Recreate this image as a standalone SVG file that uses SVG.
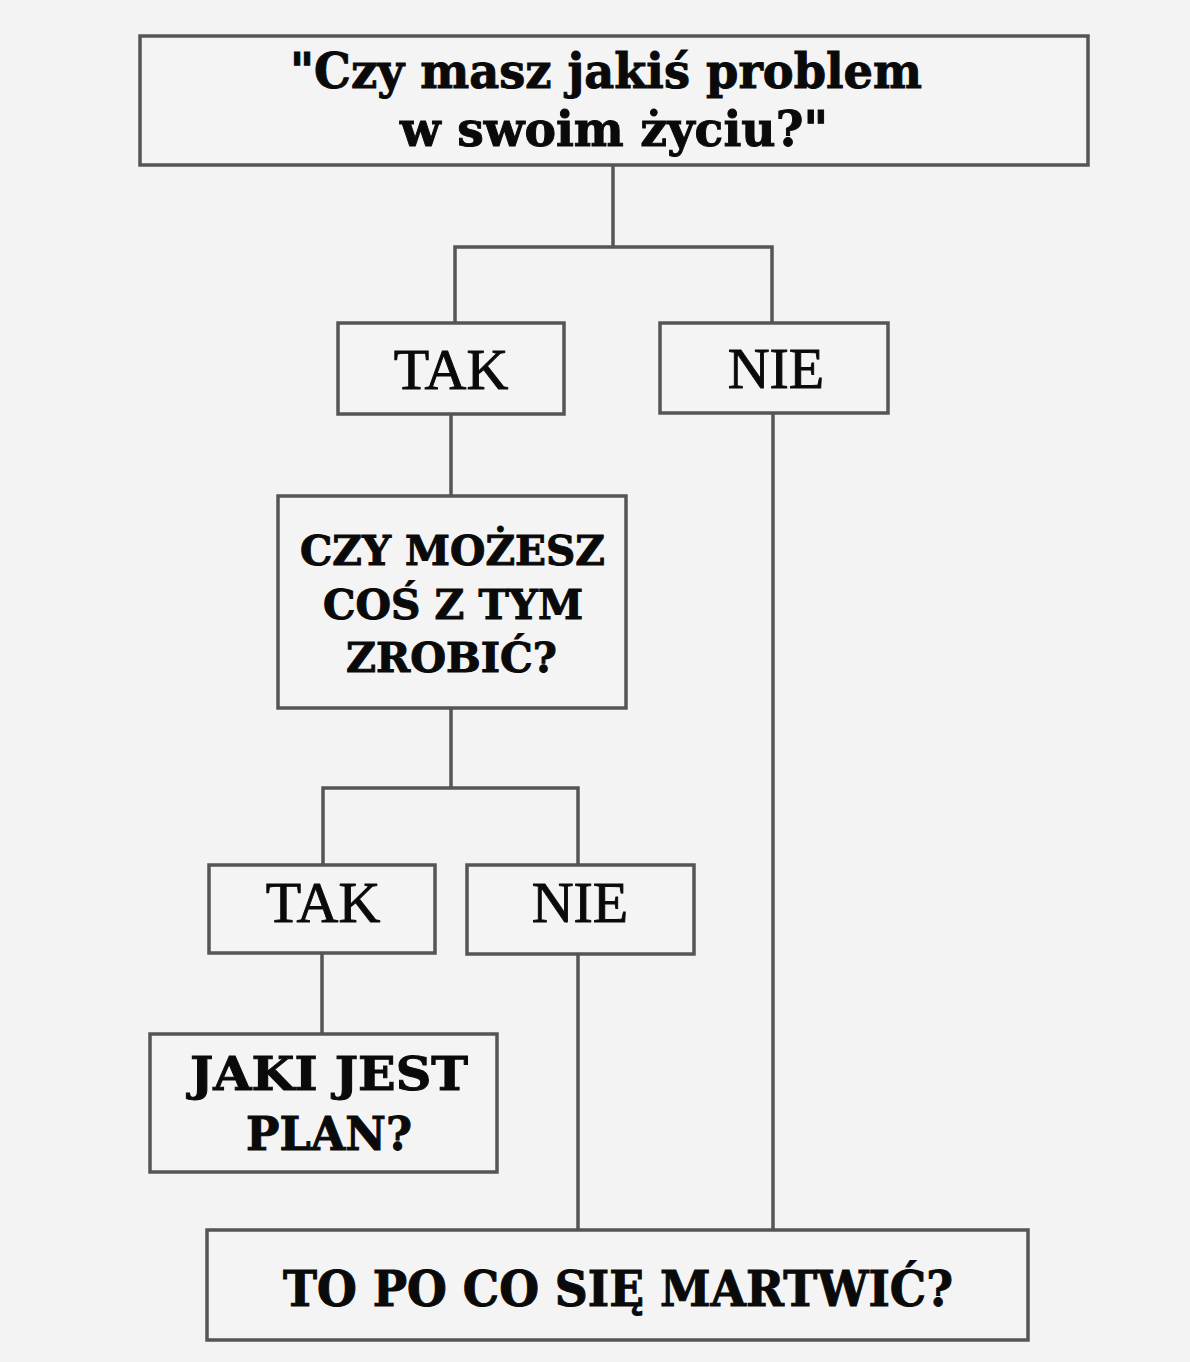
<svg xmlns="http://www.w3.org/2000/svg" width="1190" height="1362" viewBox="0 0 1190 1362">
<style>
.box{fill:#f4f4f4;stroke:#555;stroke-width:3.5}
.ln{fill:none;stroke:#555;stroke-width:3.5}
.slab{font-family:"DejaVu Serif","Liberation Serif",serif;font-weight:bold;fill:#0a0a0a;stroke:#0a0a0a;stroke-width:1}
.rom{font-family:"Liberation Serif","Times New Roman",serif;font-size:58px;fill:#0a0a0a;stroke:#0a0a0a;stroke-width:0.9}
</style>
<rect width="1190" height="1362" fill="#f3f3f3"/>
<g id="connectors">
<path class="ln" d="M613 165V247M455 323V247H772V323"/>
<path class="ln" d="M451 414V496"/>
<path class="ln" d="M451 708V788M323 865V788H578V865"/>
<path class="ln" d="M322 953V1034"/>
<path class="ln" d="M578 954V1230"/>
<path class="ln" d="M773 413V1230"/>
</g>
<g id="q1">
<rect class="box" x="140" y="36" width="948" height="129"/>
<text class="slab" font-size="49" x="290" y="88" textLength="632" lengthAdjust="spacingAndGlyphs">"Czy masz jakiś problem</text>
<text class="slab" font-size="49" x="400" y="146" textLength="428" lengthAdjust="spacingAndGlyphs">w swoim życiu?"</text>
</g>
<g id="tak1">
<rect class="box" x="338" y="323" width="226" height="91"/>
<text class="rom" x="451" y="389" text-anchor="middle">TAK</text>
</g>
<g id="nie1">
<rect class="box" x="660" y="323" width="228" height="90"/>
<text class="rom" x="776" y="388" text-anchor="middle">NIE</text>
</g>
<g id="q2">
<rect class="box" x="278" y="496" width="348" height="212"/>
<text class="slab" font-size="41" x="300" y="565" textLength="305" lengthAdjust="spacingAndGlyphs">CZY MOŻESZ</text>
<text class="slab" font-size="41" x="323" y="619" textLength="260" lengthAdjust="spacingAndGlyphs">COŚ Z TYM</text>
<text class="slab" font-size="41" x="346" y="672" textLength="211" lengthAdjust="spacingAndGlyphs">ZROBIĆ?</text>
</g>
<g id="tak2">
<rect class="box" x="209" y="865" width="226" height="88"/>
<text class="rom" x="323" y="922" text-anchor="middle">TAK</text>
</g>
<g id="nie2">
<rect class="box" x="467" y="865" width="227" height="89"/>
<text class="rom" x="580" y="922" text-anchor="middle">NIE</text>
</g>
<g id="plan">
<rect class="box" x="150" y="1034" width="347" height="138"/>
<text class="slab" font-size="47" x="190" y="1090" textLength="278" lengthAdjust="spacingAndGlyphs">JAKI JEST</text>
<text class="slab" font-size="47" x="246" y="1150" textLength="166" lengthAdjust="spacingAndGlyphs">PLAN?</text>
</g>
<g id="end">
<rect class="box" x="207" y="1230" width="821" height="110"/>
<text class="slab" font-size="48" x="283" y="1306" textLength="670" lengthAdjust="spacingAndGlyphs">TO PO CO SIĘ MARTWIĆ?</text>
</g>
</svg>
